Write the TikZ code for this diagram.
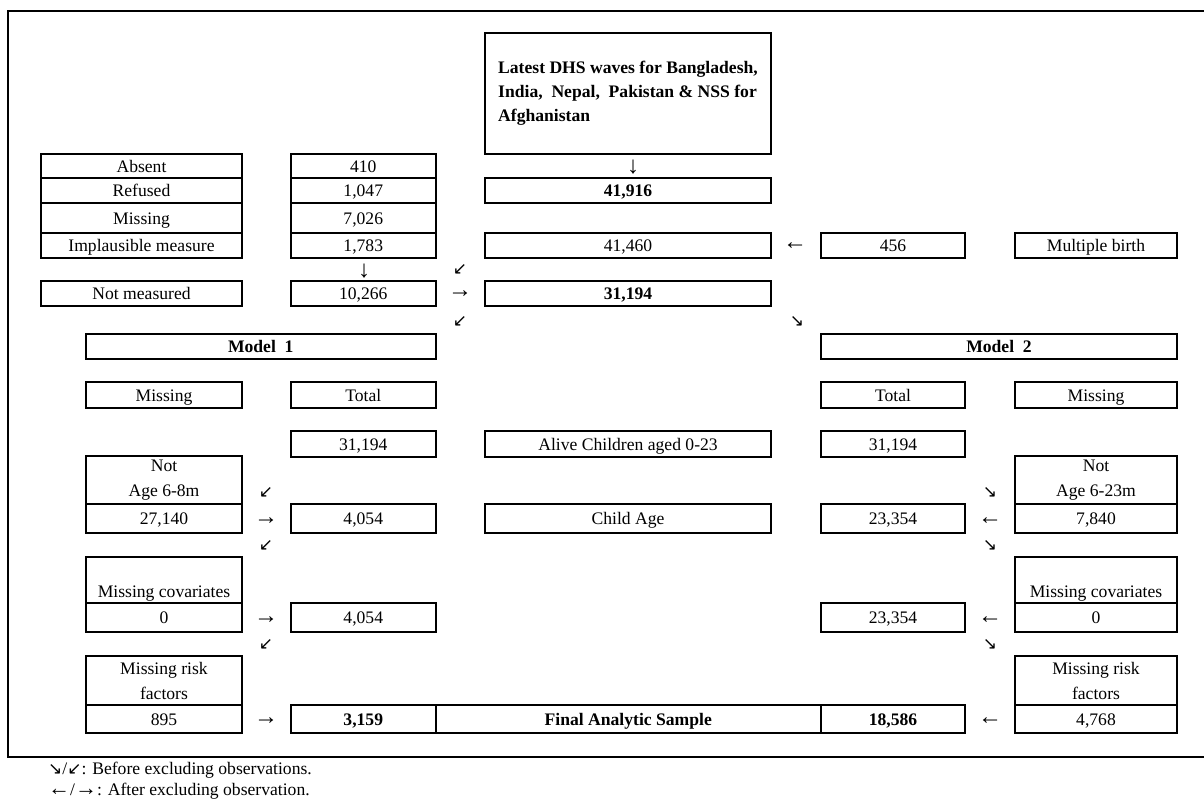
\documentclass[tikz,border=0pt]{standalone}
\usepackage{fontspec}
\setmainfont{Liberation Serif}
\newfontfamily\arrowfont{DejaVu Sans}
\usetikzlibrary{positioning, calc}
\newcommand{\boxfont}{\fontsize{17.6}{25}\selectfont}
\newcommand{\slantfont}{\arrowfont\fontsize{17}{17}\selectfont}

\begin{document}
\begin{tikzpicture}[
    x=1pt, y=-1pt,
    every node/.style={font=\boxfont},
    cell/.style={draw, line width=2pt, outer sep=0pt, inner sep=2pt,
                 minimum height=25pt, text height=12pt, text depth=0pt},
    tallcell/.style={draw, line width=2pt, outer sep=0pt, inner sep=2pt,
                 align=center},
    bold/.style={font=\boxfont\bfseries},
    sign/.style={inner sep=0pt, font=\fontsize{24}{24}\selectfont},
    slant/.style={inner sep=0pt, font=\slantfont},
  ]
    \useasboundingbox (0,0) rectangle (1204,800);
    \draw[line width=2.5pt] (8,11) rectangle (1220,757);

    % sources and exclusions before modelling
    \node[draw, line width=2pt, outer sep=0pt, anchor=north west,
          minimum width=286pt, minimum height=121pt, inner sep=4pt,
          align=left, font=\fontsize{17.6}{24}\selectfont\bfseries] (src)
      at (485,33)
      {Latest DHS waves for Bangladesh,\\
       India,\enspace Nepal,\enspace Pakistan \& NSS for\\
       Afghanistan};
    \node[cell, anchor=north west, minimum width=201pt, minimum height=24pt]
      (absent) at (41,154) {Absent};
    \node[cell, minimum width=201pt, below=0pt of absent] (refused) {Refused};
    \node[cell, minimum width=201pt, minimum height=30pt, below=0pt of refused]
      (missing) {Missing};
    \node[cell, minimum width=201pt, below=0pt of missing] (implaus)
      {Implausible measure};
    \node[cell, minimum width=144.5pt, minimum height=24pt, right=49pt of absent]
      (nabsent) {410};
    \node[cell, minimum width=144.5pt, below=0pt of nabsent] (nrefused) {1,047};
    \node[cell, minimum width=144.5pt, minimum height=30pt, below=0pt of nrefused]
      (nmissing) {7,026};
    \node[cell, minimum width=144.5pt, below=0pt of nmissing] (nimplaus) {1,783};

    \node[cell, anchor=north west, minimum width=286pt, bold] (all)
      at (485,178) {41,916};
    \node[cell, anchor=north west, minimum width=286pt] (single)
      at (485,233) {41,460};
    \node[cell, minimum width=144pt, right=50pt of single] (nmulti) {456};
    \node[cell, minimum width=162pt, right=50pt of nmulti] (multi)
      {Multiple birth};

    \node[cell, anchor=north west, minimum width=201pt] (notmeas)
      at (41,281) {Not measured};
    \node[cell, minimum width=144.5pt, right=49pt of notmeas] (nnotmeas) {10,266};
    \node[cell, minimum width=286pt, right=49.5pt of nnotmeas, bold] (measured)
      {31,194};

    % model 1 and model 2
    \node[cell, anchor=north west, minimum width=349.5pt, bold] (model1)
      at (86,334) {Model\enspace 1};
    \node[cell, anchor=north west, minimum width=356pt, bold] (model2)
      at (821,334) {Model\enspace 2};
    \node[cell, anchor=north west, minimum width=156pt, minimum height=26pt]
      (m1miss) at (86,382) {Missing};
    \node[cell, minimum width=144.5pt, minimum height=26pt, right=49pt of m1miss]
      (m1total) {Total};
    \node[cell, anchor=north west, minimum width=144pt, minimum height=26pt]
      (m2total) at (821,382) {Total};
    \node[cell, minimum width=162pt, minimum height=26pt, right=50pt of m2total]
      (m2miss) {Missing};

    \node[cell, anchor=north west, minimum width=144.5pt, minimum height=26pt]
      (m1alive) at (291,431) {31,194};
    \node[cell, minimum width=286pt, minimum height=26pt, right=49.5pt of m1alive]
      (alive) {Alive Children aged 0-23};
    \node[cell, minimum width=144pt, minimum height=26pt, right=50pt of alive]
      (m2alive) {31,194};

    \node[tallcell, anchor=north west, minimum width=156pt, minimum height=48pt]
      (m1notage) at (86,456) {Not\\Age 6-8m};
    \node[cell, minimum width=156pt, minimum height=29pt, below=0pt of m1notage]
      (m1nnotage) {27,140};
    \node[cell, minimum width=144.5pt, minimum height=29pt, right=49pt of m1nnotage]
      (m1age) {4,054};
    \node[cell, minimum width=286pt, minimum height=29pt, right=49.5pt of m1age]
      (childage) {Child Age};
    \node[cell, minimum width=144pt, minimum height=29pt, right=50pt of childage]
      (m2age) {23,354};
    \node[cell, minimum width=162pt, minimum height=29pt, right=50pt of m2age]
      (m2nnotage) {7,840};
    \node[tallcell, minimum width=162pt, minimum height=48pt, above=0pt of m2nnotage]
      (m2notage) {Not\\Age 6-23m};

    \node[cell, anchor=north west, minimum width=156pt, minimum height=46pt,
          text height=34pt] (m1cov) at (86,557) {Missing covariates};
    \node[cell, minimum width=156pt, minimum height=29pt, below=0pt of m1cov]
      (m1ncov) {0};
    \node[cell, minimum width=144.5pt, minimum height=29pt, right=49pt of m1ncov]
      (m1covok) {4,054};
    \node[cell, anchor=north west, minimum width=144pt, minimum height=29pt]
      (m2covok) at (821,603) {23,354};
    \node[cell, minimum width=162pt, minimum height=29pt, right=50pt of m2covok]
      (m2ncov) {0};
    \node[cell, minimum width=162pt, minimum height=46pt, text height=34pt,
          above=0pt of m2ncov] (m2cov) {Missing covariates};

    \node[tallcell, anchor=north west, minimum width=156pt, minimum height=49pt]
      (m1risk) at (86,656) {Missing risk\\factors};
    \node[cell, minimum width=156pt, minimum height=28pt, below=0pt of m1risk]
      (m1nrisk) {895};
    \node[cell, minimum width=144.5pt, minimum height=28pt, right=49pt of m1nrisk,
          bold] (m1final) {3,159};
    \node[cell, minimum width=385.5pt, minimum height=28pt, right=0pt of m1final,
          bold] (final) {Final Analytic Sample};
    \node[cell, minimum width=144pt, minimum height=28pt, right=0pt of final,
          bold] (m2final) {18,586};
    \node[cell, minimum width=162pt, minimum height=28pt, right=50pt of m2final]
      (m2nrisk) {4,768};
    \node[tallcell, minimum width=162pt, minimum height=49pt, above=0pt of m2nrisk]
      (m2risk) {Missing risk\\factors};

    % arrow signs
    \node[sign] (dsrc) at (633,167) {↓};
    \node[sign] (dexcl) at (364,271) {↓};
    \node[sign] (lmulti) at (795,246) {←};
    \node[slant] (bexcl) at (460,270) {↙};
    \node[sign] (aexcl) at (460,294) {→};
    \node[slant] (bm1) at (460,322) {↙};
    \node[slant] (bm2) at (797,322) {↘};

    \foreach \y/\s [count=\i] in {493/slant, 521/sign, 546/slant, 620/sign,
                                  644/slant, 721/sign} {
      \ifodd\i
        \node[\s] (left\i) at (266,\y) {↙};
        \node[\s] (right\i) at (990,\y) {↘};
      \else
        \node[\s] (left\i) at (266,\y) {→};
        \node[\s] (right\i) at (990,\y) {←};
      \fi
    }

    % legend
    \node[anchor=base west, align=left, inner sep=0pt,
          font=\fontsize{17.6}{21}\selectfont] (legend) at (48,795)
      {{\slantfont ↘}/{\slantfont ↙}: Before excluding observations.\\
       {\fontsize{22}{21}\selectfont ←}/{\fontsize{22}{21}\selectfont →}:
       After excluding observation.};
\end{tikzpicture}
\end{document}
